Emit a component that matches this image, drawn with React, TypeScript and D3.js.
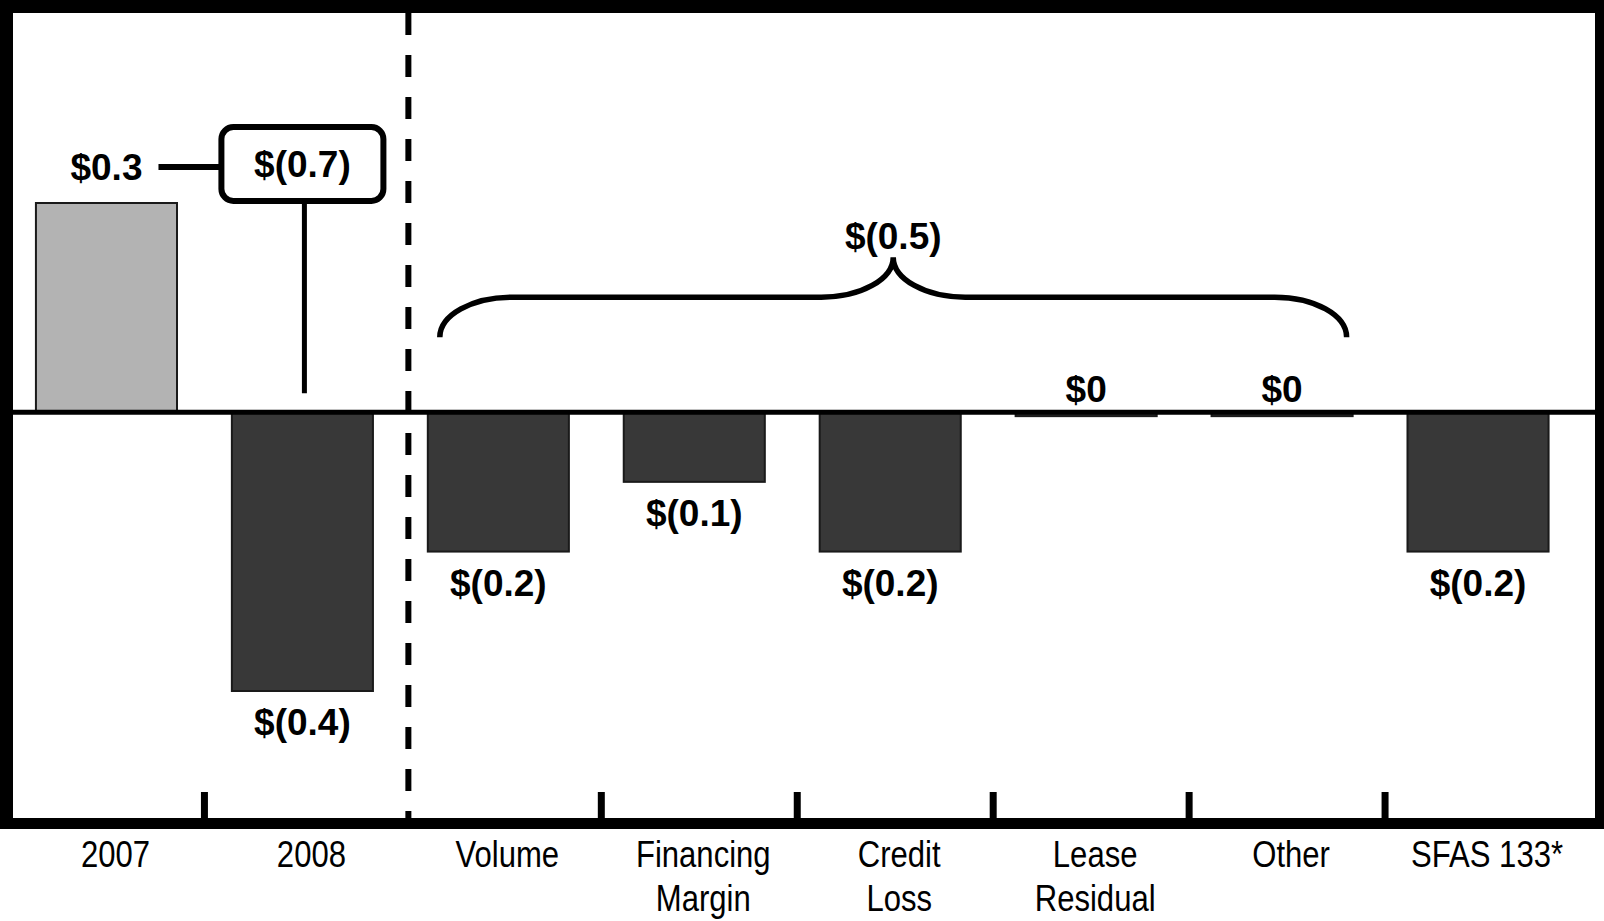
import React from "react";
import * as d3 from "d3";

// Net income bridge: 2007 vs 2008 with the drivers of the change
const categories = ["2007", "2008", "Volume", "Financing Margin", "Credit Loss", "Lease Residual", "Other", "SFAS 133*"];
const categoryLines = [["2007"], ["2008"], ["Volume"], ["Financing", "Margin"], ["Credit", "Loss"], ["Lease", "Residual"], ["Other"], ["SFAS 133*"]];
const values = [0.3, -0.4, -0.2, -0.1, -0.2, 0, 0, -0.2];
// drivers grouped under the brace
const bracedDrivers = ["Volume", "Financing Margin", "Credit Loss", "Lease Residual", "Other"];

const W = 1604;
const H = 921;
const FRAME = { left: 13, top: 13, right: 1595, bottom: 818, bottomOuter: 829 };

const fmt = (v: number) => {
  const r = Math.round(v * 10) / 10;
  if (Math.abs(r) < 1e-9) return "$0";
  return r < 0 ? `$(${Math.abs(r).toFixed(1)})` : `$${r.toFixed(1)}`;
};

export default function App() {
  const x = d3.scaleBand<string>().domain(categories).range([8.5, 1576]).paddingInner(0.28).paddingOuter(0.14);
  const y = d3.scaleLinear().domain([-0.4, 0.3]).range([691, 203]);
  const bw = x.bandwidth();
  const step = x.step();
  const y0 = y(0);

  const boundary = (i: number) => (x(categories[i]) as number) + bw + (step - bw) / 2;
  const cx = (c: string) => (x(c) as number) + bw / 2;

  const labelFont = "'Liberation Sans', Arial, sans-serif";

  // annotation: total change 2007 -> 2008
  const totalChange = values[1] - values[0];
  const c2007 = cx(categories[0]);
  const c2008 = cx(categories[1]);
  const y2007Label = y(values[0]) - 23;
  const boxW = 162;
  const boxH = 74;
  const boxCy = y2007Label - 16;

  // brace over the drivers
  const driverSum = bracedDrivers.reduce((s, c) => s + values[categories.indexOf(c)], 0);
  const bL = (x(bracedDrivers[0]) as number) + 12;
  const bR = (x(bracedDrivers[bracedDrivers.length - 1]) as number) + bw - 6;
  const bM = (bL + bR) / 2;
  const yEnd = y0 - 75;
  const yBar = y0 - 115;
  const yTip = y0 - 155;
  const hook = 72;
  const k = 0.5523;
  const dy = yEnd - yBar;
  const dt = yBar - yTip;
  const bracePath = [
    `M${bL},${yEnd}`,
    `C${bL},${yEnd - k * dy} ${bL + hook - k * hook},${yBar} ${bL + hook},${yBar}`,
    `L${bM - hook},${yBar}`,
    `C${bM - hook + k * hook},${yBar} ${bM},${yTip + k * dt} ${bM},${yTip}`,
    `C${bM},${yTip + k * dt} ${bM + hook - k * hook},${yBar} ${bM + hook},${yBar}`,
    `L${bR - hook},${yBar}`,
    `C${bR - hook + k * hook},${yBar} ${bR},${yEnd - k * dy} ${bR},${yEnd}`,
  ].join(" ");

  // dashed separator between the years and the drivers
  const dividerX = boundary(1) + 8;
  const tickShift = 5;
  const labelShift = 9;

  return (
    <div style={{ position: "fixed", left: 0, top: 0 }}>
      <svg width={W} height={H} style={{ display: "block", background: "#fff" }}>
        <rect x={0} y={0} width={W} height={H} fill="#fff" />

        {/* bars */}
        {categories.map((c, i) => {
          const v = values[i];
          const top = Math.min(y(v), y0);
          const h = Math.max(Math.abs(y(v) - y0), 4);
          return (
            <rect
              key={c}
              x={x(c)}
              y={top}
              width={bw}
              height={h}
              fill={i === 0 ? "#b3b3b3" : "#383838"}
              stroke="#1a1a1a"
              strokeWidth={2}
            />
          );
        })}

        {/* zero line */}
        <line x1={FRAME.left} x2={FRAME.right} y1={y0} y2={y0} stroke="#000" strokeWidth={5} />

        {/* value labels */}
        {categories.map((c, i) => {
          const v = values[i];
          const ly = v < 0 ? y(v) + 44 : v > 0 ? y(v) - 23 : y0 - 10;
          return (
            <text
              key={c}
              x={cx(c)}
              y={ly}
              textAnchor="middle"
              fontFamily={labelFont}
              fontWeight="bold"
              fontSize={37}
              fill="#000"
            >
              {fmt(v)}
            </text>
          );
        })}

        {/* total change callout */}
        <line x1={c2007 + 52} x2={c2008 - boxW / 2} y1={boxCy + 3} y2={boxCy + 3} stroke="#000" strokeWidth={6} />
        <rect
          x={c2008 - boxW / 2}
          y={boxCy - boxH / 2}
          width={boxW}
          height={boxH}
          rx={12}
          ry={12}
          fill="#fff"
          stroke="#000"
          strokeWidth={6}
        />
        <text
          x={c2008}
          y={boxCy + 13}
          textAnchor="middle"
          fontFamily={labelFont}
          fontWeight="bold"
          fontSize={37}
          fill="#000"
        >
          {fmt(totalChange)}
        </text>
        <line x1={c2008 + 2} x2={c2008 + 2} y1={boxCy + boxH / 2} y2={y0 - 19} stroke="#000" strokeWidth={5} />

        {/* brace */}
        <path d={bracePath} fill="none" stroke="#000" strokeWidth={5.5} />
        <text
          x={bM}
          y={yTip - 8}
          textAnchor="middle"
          fontFamily={labelFont}
          fontWeight="bold"
          fontSize={37}
          fill="#000"
        >
          {fmt(driverSum)}
        </text>

        {/* dashed divider */}
        <line
          x1={dividerX}
          x2={dividerX}
          y1={FRAME.top}
          y2={FRAME.bottom}
          stroke="#000"
          strokeWidth={6}
          strokeDasharray="22 20"
        />

        {/* category ticks */}
        {categories.slice(0, -1).map((c, i) =>
          i === 1 ? null : (
            <line
              key={c}
              x1={boundary(i) + (i > 1 ? tickShift : 0)}
              x2={boundary(i) + (i > 1 ? tickShift : 0)}
              y1={792}
              y2={FRAME.bottom}
              stroke="#000"
              strokeWidth={7}
            />
          )
        )}

        {/* frame */}
        <rect x={0} y={0} width={FRAME.left} height={FRAME.bottomOuter} fill="#000" />
        <rect x={0} y={0} width={W} height={FRAME.top} fill="#000" />
        <rect x={FRAME.right} y={0} width={W - FRAME.right} height={FRAME.bottomOuter} fill="#000" />
        <rect x={0} y={FRAME.bottom} width={W} height={FRAME.bottomOuter - FRAME.bottom} fill="#000" />

        {/* category labels, condensed */}
        {categories.map((c, i) => (
          <g key={c} transform={`translate(${cx(c) + labelShift},867) scale(0.84,1)`}>
            <text textAnchor="middle" fontFamily={labelFont} fontSize={37} fill="#000">
              {categoryLines[i].map((line, j) => (
                <tspan key={j} x={0} dy={j === 0 ? 0 : 44}>
                  {line}
                </tspan>
              ))}
            </text>
          </g>
        ))}
      </svg>
    </div>
  );
}
